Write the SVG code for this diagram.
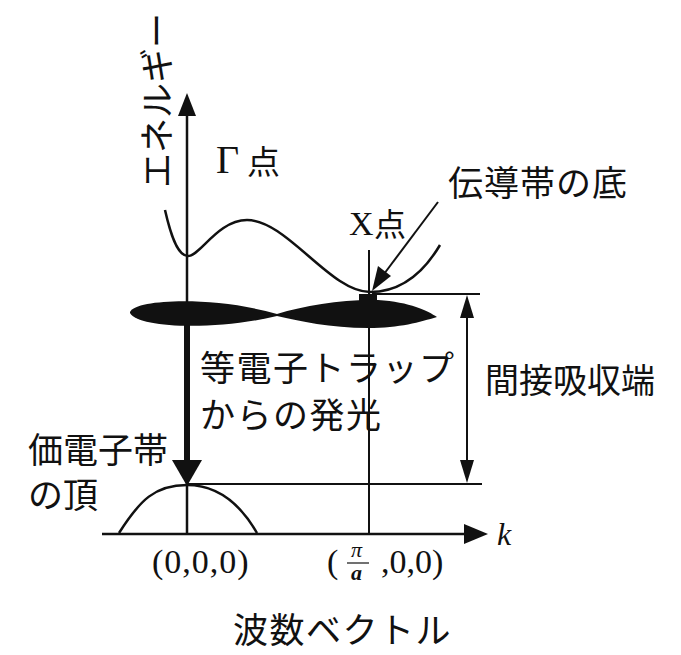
<svg xmlns="http://www.w3.org/2000/svg" width="681" height="655" viewBox="0 0 681 655">
<style>
.ln{stroke:#111;stroke-width:2.5;fill:none}
.thin{stroke:#111;stroke-width:2;fill:none}
.fill{fill:#111;stroke:none}
.jp{font-family:"Liberation Serif","Noto Sans CJK JP",serif;fill:#111}
.sf{font-family:"Liberation Serif",serif;fill:#111}
</style>
<rect width="681" height="655" fill="#fff"/>

<g id="connectors">
<line class="ln" x1="187" y1="535" x2="187" y2="112"/>
<path class="fill" d="M187,93 L196,116 L178,116 Z"/>
<line class="ln" x1="102" y1="534" x2="468" y2="534"/>
<path class="fill" d="M488,534 L464,524 L464,544 Z"/>
<line class="thin" x1="369" y1="250" x2="369" y2="534"/>
<path class="ln" d="M165,210 C170,232 177,256 188,256 C200,256 218,220 247,220 C287,220 330,292 370,292 C402,292 424,272 440,245"/>
<path class="ln" d="M119,533 C140,500 155,485 187,485 C215,485 238,500 257,533"/>
<line class="thin" x1="372" y1="294" x2="480" y2="294"/>
<line class="thin" x1="187" y1="484" x2="482" y2="484"/>
<line class="thin" x1="467" y1="314" x2="467" y2="464"/>
<path class="fill" d="M467,295 L474,318 L460,318 Z"/>
<path class="fill" d="M467,483 L474,460 L460,460 Z"/>
<line x1="187" y1="322" x2="187" y2="462" stroke="#111" stroke-width="6"/>
<path class="fill" d="M187,486 L202,460 L172,460 Z"/>
<line class="thin" x1="438" y1="202" x2="384" y2="274"/>
<path class="fill" d="M372,291 L378,266 L391,276 Z"/>
</g>

<g id="trap-band">
<path class="fill" d="M130,312 C136,299 215,296 277,314 L277,316 C215,331 138,328 130,313 Z"/>
<path class="fill" d="M277,314 C305,305 345,299 378,300 C410,302 428,311 437,317 C420,322 400,328 368,328 C330,328 300,321 277,316 Z"/>
<rect class="fill" x="359" y="294" width="18" height="7"/>
</g>

<g id="axis-label">
<text class="jp" font-size="35" transform="translate(158,188) rotate(-90)" dominant-baseline="central">エネルギー</text>
</g>

<g id="gamma-label">
<text class="sf" x="216" y="173" font-size="40">Γ</text>
<text class="jp" x="247" y="174" font-size="33">点</text>
</g>

<g id="x-label">
<text class="sf" x="349" y="235" font-size="34">X</text>
<text class="jp" x="374" y="236" font-size="32">点</text>
</g>

<g id="cb-bottom-label">
<text class="jp" x="448" y="196" font-size="35" letter-spacing="1">伝導帯の底</text>
</g>

<g id="trap-label">
<text class="jp" x="200" y="381" font-size="35" letter-spacing="1.5">等電子トラップ</text>
<text class="jp" x="200" y="428" font-size="35" letter-spacing="1.5">からの発光</text>
</g>

<g id="edge-label">
<text class="jp" x="485" y="393" font-size="34">間接吸収端</text>
</g>

<g id="vb-top-label">
<text class="jp" x="28" y="463" font-size="35">価電子帯</text>
<text class="jp" x="28" y="508" font-size="35">の頂</text>
</g>

<g id="k-label">
<text class="sf" x="497" y="545" font-size="32" font-style="italic">k</text>
</g>

<g id="gamma-coord">
<text class="sf" x="152" y="573" font-size="34" letter-spacing="1">(0,0,0)</text>
</g>

<g id="x-coord">
<text class="sf" x="327" y="573" font-size="34">(</text>
<text class="sf" x="351" y="557" font-size="22" font-style="italic">π</text>
<line x1="347" y1="563" x2="369" y2="563" stroke="#111" stroke-width="1.2"/>
<text class="sf" x="351" y="580" font-size="22" font-style="italic" font-weight="bold">a</text>
<text class="sf" x="381" y="573" font-size="34">,0,0)</text>
</g>

<g id="wavevector-label">
<text class="jp" x="233" y="643" font-size="35" letter-spacing="1.5">波数ベクトル</text>
</g>
</svg>
